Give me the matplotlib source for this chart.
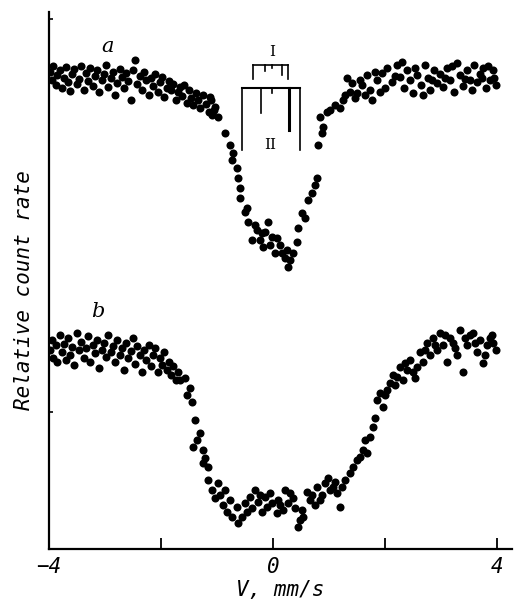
import matplotlib
matplotlib.use("Agg")
import matplotlib.pyplot as plt
import numpy as np

# spectrum a (upper), velocity in mm/s and count rate in arbitrary units
a_left_v = [-3.98, -3.95, -3.92, -3.88, -3.85, -3.80, -3.77, -3.73, -3.70, -3.66,
            -3.62, -3.58, -3.55, -3.50, -3.46, -3.42, -3.38, -3.34, -3.30, -3.26,
            -3.22, -3.18, -3.14, -3.10, -3.06, -3.02, -2.98, -2.94, -2.90, -2.86,
            -2.82, -2.78, -2.74, -2.70, -2.66, -2.62, -2.58, -2.54, -2.50, -2.46,
            -2.42, -2.38, -2.34, -2.30, -2.26, -2.22, -2.18, -2.14, -2.10, -2.06,
            -2.02, -1.98, -1.94, -1.90, -1.86, -1.82, -1.78, -1.74, -1.70, -1.66,
            -1.62, -1.58, -1.54, -1.50, -1.46, -1.42, -1.38, -1.34, -1.30, -1.25,
            -1.20, -1.15, -1.10, -1.08, -1.06]
a_left_c = [477, 469, 483, 464, 474, 479, 461, 471, 482, 467,
            458, 475, 480, 465, 470, 483, 459, 476, 468, 481,
            463, 473, 479, 457, 469, 475, 484, 462, 471, 477,
            454, 466, 480, 472, 461, 476, 468, 449, 479, 489,
            465, 473, 459, 477, 469, 454, 471, 463, 475, 457,
            467, 472, 452, 461, 468, 459, 465, 449, 457, 462,
            453, 464, 446, 459, 451, 444, 456, 449, 441, 454,
            445, 437, 449, 434, 439]

a_dip_v = [-1.13, -1.04, -0.98, -1.09, -0.86, -0.77, -0.71, -0.73, -0.64, -0.63,
           -0.59, -0.59, -0.46, -0.50, -0.45, -0.32, -0.38, -0.29, -0.20, -0.09,
           -0.14, -0.02, 0.07, -0.18, 0.04, 0.13, 0.16, 0.25, 0.27, 0.36,
           0.43, 0.45, 0.57, 0.52, 0.63, 0.70, 0.75, 0.79, 0.80, 0.88,
           0.89, 0.84, 0.96, -0.23, -0.05, 0.21, 0.30]
a_dip_c = [452, 442, 432, 436, 416, 404, 396, 389, 381, 371,
           361, 351, 341, 337, 327, 324, 309, 319, 316, 327,
           317, 312, 311, 302, 296, 304, 296, 299, 282, 296,
           307, 321, 331, 336, 349, 356, 364, 371, 404, 416,
           422, 432, 437, 309, 304, 291, 289]

a_right_v = [1.02, 1.11, 1.20, 1.25, 1.32, 1.41, 1.46, 1.50, 1.59, 1.68,
             1.73, 1.77, 1.86, 1.95, 2.00, 2.04, 2.13, 2.21, 2.27, 2.34,
             2.39, 2.45, 2.50, 2.57, 2.64, 2.71, 2.77, 2.80, 2.88, 2.93,
             2.98, 3.04, 3.11, 3.16, 3.23, 3.29, 3.34, 3.39, 3.46, 3.52,
             3.59, 3.64, 3.70, 3.75, 3.80, 3.88, 3.93, 3.98,
             1.29, 1.38, 1.55, 1.64, 1.82, 1.91, 2.18, 2.30, 2.54, 2.68,
             2.84, 3.07, 3.20, 3.43, 3.55, 3.73, 3.84, 3.95]
a_right_c = [439, 444, 441, 449, 471, 466, 451, 456, 464, 474,
             459, 449, 469, 476, 461, 481, 467, 484, 472, 461,
             479, 469, 456, 474, 464, 484, 471, 459, 479, 466,
             475, 462, 481, 469, 457, 486, 474, 463, 479, 469,
             484, 467, 475, 481, 461, 469, 479, 464,
             454, 457, 469, 454, 477, 457, 473, 487, 481, 454,
             469, 471, 483, 470, 459, 471, 483, 471]

# spectrum b (lower)
b_left_v = [-3.98, -3.95, -3.92, -3.88, -3.85, -3.80, -3.77, -3.73, -3.70, -3.66,
            -3.62, -3.58, -3.55, -3.50, -3.46, -3.42, -3.38, -3.34, -3.30, -3.26,
            -3.22, -3.18, -3.14, -3.10, -3.06, -3.02, -2.98, -2.94, -2.90, -2.86,
            -2.82, -2.78, -2.74, -2.70, -2.66, -2.62, -2.58, -2.54, -2.50, -2.46,
            -2.42, -2.38, -2.34, -2.30, -2.26, -2.22, -2.18, -2.14, -2.10, -2.06,
            -2.02, -1.98, -1.94, -1.90, -1.86, -1.82, -1.78, -1.74, -1.70]
b_left_c = [199, 209, 191, 204, 187, 214, 197, 205, 189, 211,
            194, 202, 184, 216, 199, 207, 191, 201, 213, 187,
            204, 196, 209, 181, 199, 206, 192, 214, 197, 203,
            187, 209, 194, 201, 179, 206, 191, 198, 211, 185,
            203, 194, 177, 199, 189, 204, 183, 194, 201, 177,
            191, 184, 197, 179, 187, 174, 183, 169, 177]

b_dip_v = [-1.66, -1.57, -1.48, -1.54, -1.45, -1.39, -1.43, -1.30, -1.36, -1.25,
           -1.25, -1.21, -1.16, -1.16, -0.98, -1.04, -1.09,
           -0.95, -0.89, -0.82, -0.77, -0.73, -0.64, -0.63, -0.55, -0.50, -0.41,
           -0.38, -0.32, -0.27, -0.20, -0.14, -0.11, -0.05, -0.02, 0.07, 0.09,
           0.21, 0.18, 0.27, 0.36, 0.39, 0.52, 0.45, 0.54, 0.61, 0.66,
           0.75, 0.79, 0.88, 0.93, 1.02, 1.11, 1.20, 1.14, 1.23, 1.29,
           1.38, 1.43, 1.50,
           -0.86, -0.46, -0.23, 0.13, 0.30, 0.48, 0.70, 0.84, 0.98, 1.07]
b_dip_c = [169, 171, 161, 154, 147, 129, 102, 116, 109, 99,
           86, 91, 82, 69, 66, 51, 59,
           54, 44, 37, 49, 32, 42, 26, 32, 46, 52,
           41, 59, 47, 37, 52, 42, 56, 46, 36, 49,
           59, 39, 46, 51, 41, 39, 22, 32, 57, 49,
           44, 62, 54, 66, 59, 67, 42, 56, 62, 69,
           76, 82, 89,
           59, 37, 54, 44, 56, 29, 54, 49, 71, 62]

b_right_v = [1.55, 1.61, 1.68, 1.73, 1.79, 1.82, 1.86, 1.91, 1.96, 2.04,
             2.09, 2.14, 2.21, 2.27, 2.32, 2.39, 2.45, 2.50, 2.57, 2.63,
             2.68, 2.75, 2.80, 2.86, 2.93, 2.98, 3.04, 3.11, 3.16, 3.21,
             3.29, 3.34, 3.39, 3.46, 3.52, 3.57, 3.64, 3.70, 3.75, 3.82,
             3.88, 3.93, 3.98,
             1.64, 2.00, 2.18, 2.36, 2.54, 2.71, 2.89, 3.07, 3.25, 3.43,
             3.61, 3.79, 3.91]
b_right_c = [92, 99, 96, 112, 122, 131, 149, 156, 142, 159,
             166, 174, 172, 182, 169, 179, 189, 177, 182, 197,
             187, 206, 194, 211, 199, 216, 204, 187, 211, 206,
             194, 219, 177, 204, 214, 216, 197, 209, 186, 204,
             211, 206, 199,
             109, 154, 164, 186, 171, 199, 204, 214, 201, 211,
             206, 194, 214]

# doublet line markers (velocities), bracket I and bracket II
lines_I = [-0.36, -0.14, -0.02, 0.16, 0.27]
lines_II = [-0.55, -0.21, -0.02, 0.29, 0.48]

a_v = a_left_v + a_dip_v + a_right_v
a_c = a_left_c + a_dip_c + a_right_c
b_v = b_left_v + b_dip_v + b_right_v
b_c = b_left_c + b_dip_c + b_right_c

fig = plt.figure(figsize=(5.14, 6.07), dpi=100)
ax = fig.add_axes([0.0953, 0.0956, 0.9008, 0.8847])

ax.plot(a_v, a_c, 'o', color='black', markersize=5.8, markeredgewidth=0)
ax.plot(b_v, b_c, 'o', color='black', markersize=5.8, markeredgewidth=0)

# bracket I
ax.plot([lines_I[0], lines_I[-1]], [484, 484], color='black', lw=1.2)
ax.plot([lines_I[0], lines_I[0]], [484, 470], color='black', lw=1.2)
ax.plot([lines_I[-1], lines_I[-1]], [484, 470], color='black', lw=1.2)
ax.plot([lines_I[1], lines_I[1]], [484, 478], color='black', lw=1.2)
ax.plot([lines_I[2], lines_I[2]], [484, 481], color='black', lw=1.2)
ax.plot([lines_I[3], lines_I[3]], [484, 474], color='black', lw=1.2)
ax.text(-0.02, 490, 'I', ha='center', va='bottom', fontsize=11, family='DejaVu Serif')

# bracket II
ax.plot([lines_II[0], lines_II[-1]], [461, 461], color='black', lw=1.5)
ax.plot([lines_II[0], lines_II[0]], [461, 399], color='black', lw=1.2)
ax.plot([lines_II[-1], lines_II[-1]], [461, 399], color='black', lw=1.2)
ax.plot([lines_II[1], lines_II[1]], [461, 436], color='black', lw=1.2)
ax.plot([lines_II[2], lines_II[2]], [461, 456], color='black', lw=1.2)
ax.plot([lines_II[3], lines_II[3]], [461, 419], color='black', lw=2.2)
ax.text(-0.05, 404, 'II', ha='center', va='center', fontsize=11, family='DejaVu Serif')

ax.text(-2.95, 502, 'a', ha='center', va='center', fontsize=15,
        family='DejaVu Serif', style='italic')
ax.text(-3.12, 237, 'b', ha='center', va='center', fontsize=15,
        family='DejaVu Serif', style='italic')

ax.set_xlim(-4, 4.27)
ax.set_ylim(0, 537)

for side in ['top', 'right']:
    ax.spines[side].set_visible(False)
for side in ['left', 'bottom']:
    ax.spines[side].set_linewidth(1.6)

ax.set_xticks([-4, -2, 0, 2, 4])
ax.set_xticklabels(['\u22124', '', '0', '', '4'], family='DejaVu Sans Mono',
                   style='oblique', fontsize=15)
ax.tick_params(axis='x', direction='in', length=8, width=1.3, pad=6)
ax.set_yticks([137, 530])
ax.set_yticklabels([])
ax.tick_params(axis='y', direction='in', length=3, width=1.2)

ax.set_xlabel('V, mm/s', family='DejaVu Sans Mono', style='oblique',
              fontsize=15, labelpad=2)
ax.set_ylabel('Relative count rate', family='DejaVu Sans Mono', style='oblique',
              fontsize=15)
ax.yaxis.set_label_coords(-0.032, 0.482)

fig.savefig('out.png', dpi=100)
